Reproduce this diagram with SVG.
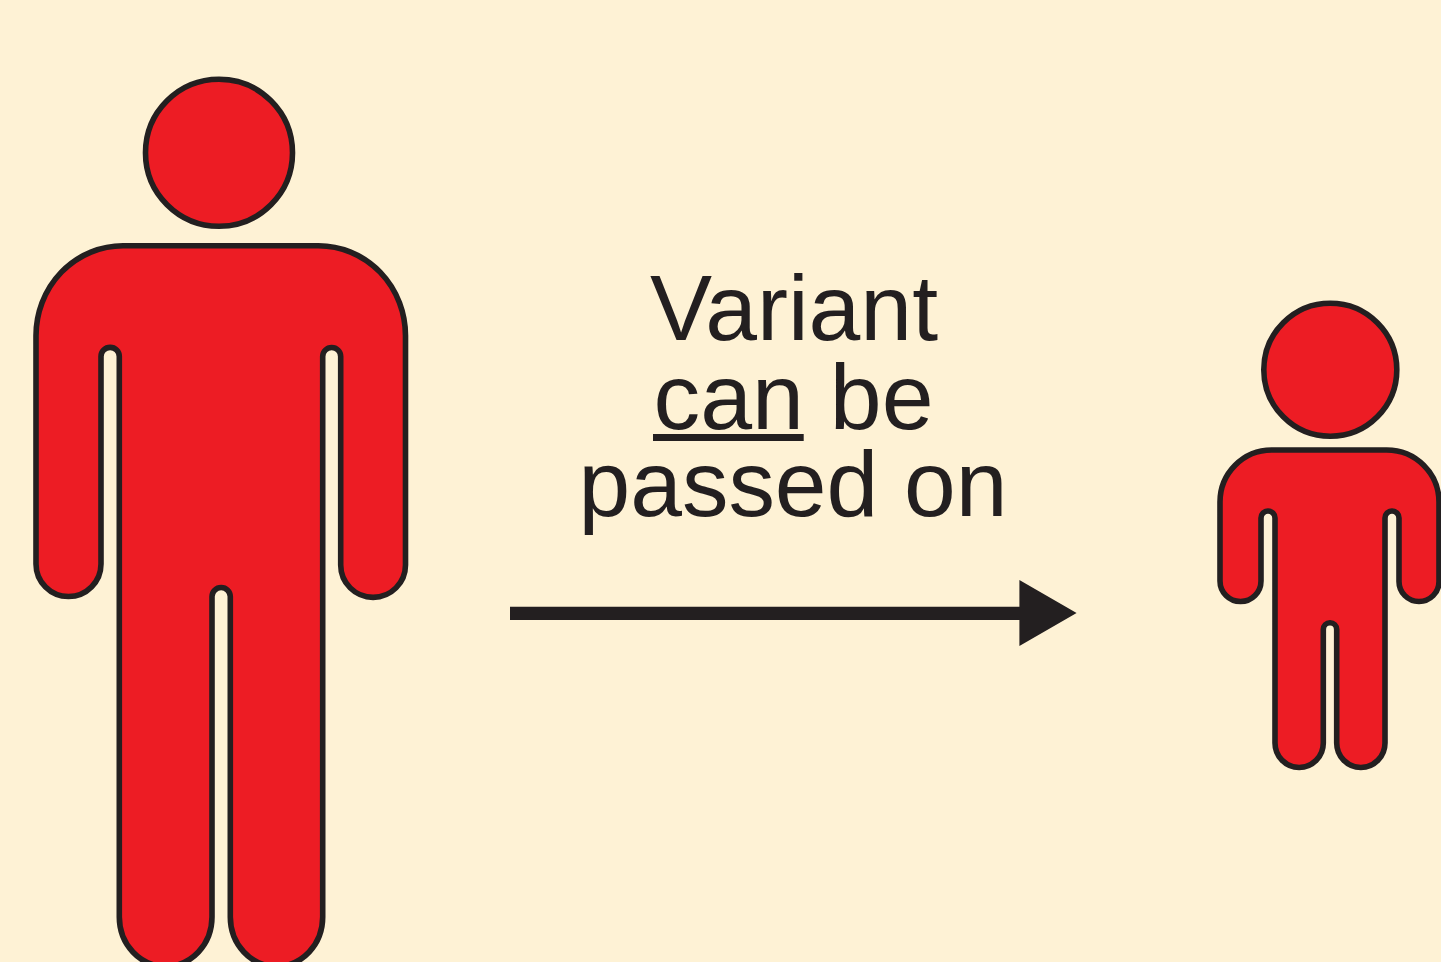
<svg xmlns="http://www.w3.org/2000/svg" width="1441" height="962" viewBox="0 0 1441 962">
<style>
.fig{fill:#ED1C24;stroke:#231F20;stroke-width:5.6;stroke-linejoin:round}
.lbl{font-family:"Liberation Sans",Arial,sans-serif;font-size:93px;fill:#231F20}
.ink{fill:#231F20}
</style>
<rect width="1441" height="962" fill="#FEF2D5"/>
<g id="adult">
<circle class="fig" cx="219" cy="152.800" r="73.500"/>
<path class="fig" d="M123 245.700H318.500A87 90 0 0 1 405.500 336V565A32.400 32.400 0 0 1 340.700 565V356.500A9 9 0 0 0 322.700 356.500V917A46.200 49.500 0 0 1 230.300 917V596.600A9.150 9.100 0 0 0 212 596.600V917A46.350 49.500 0 0 1 119.300 917V356.500A9.150 9.100 0 0 0 101 356.500V564A32.500 32.500 0 0 1 36 564V336A87 90 0 0 1 123 245.700Z"/>
</g>
<g id="child">
<circle class="fig" cx="1330.300" cy="369.800" r="66.500"/>
<path class="fig" d="M1271.700 450H1386.700A52.300 52 0 0 1 1439 502V581.500A20 20 0 0 1 1399 581.500V518A7 7 0 0 0 1385 518V743A24.150 24.500 0 0 1 1336.700 743V629.400A6.700 6.700 0 0 0 1323.300 629.400V743A24.150 24.500 0 0 1 1275 743V518A7 7 0 0 0 1261 518V581A20.500 20.500 0 0 1 1220 581V502A51.700 52 0 0 1 1271.700 450Z"/>
</g>
<g id="label">
<text class="lbl" x="650" y="340" textLength="288" lengthAdjust="spacingAndGlyphs">Variant</text>
<text class="lbl" x="653.500" y="428.500" textLength="280" lengthAdjust="spacingAndGlyphs">can be</text>
<rect class="ink" x="653" y="434" width="150.700" height="7"/>
<text class="lbl" x="578.500" y="516" textLength="429" lengthAdjust="spacingAndGlyphs">passed on</text>
</g>
<g id="connectors">
<path class="ink" d="M510 606.700H1019.400V580L1076.600 613L1019.400 646V620H510Z"/>
</g>
</svg>
